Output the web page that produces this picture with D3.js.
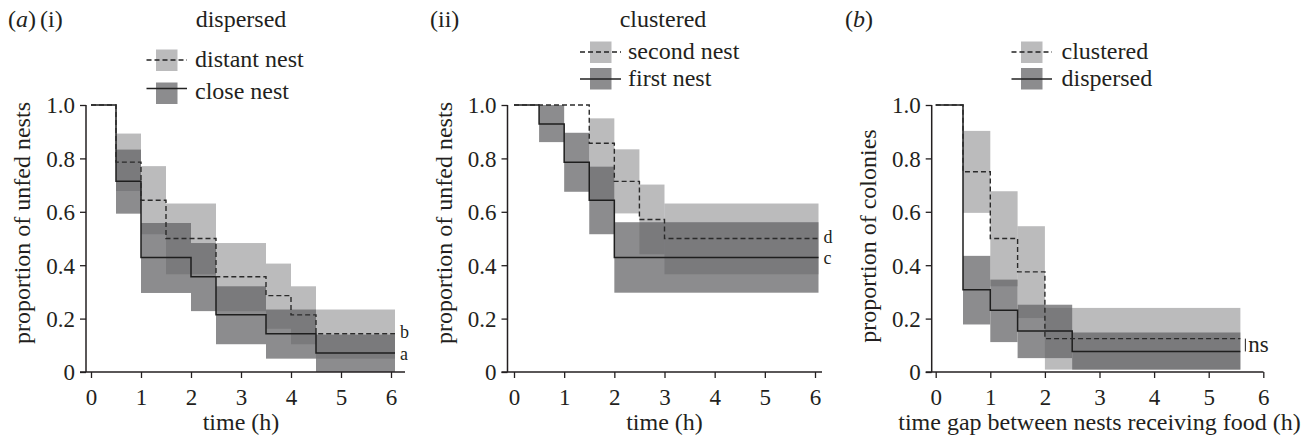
<!DOCTYPE html>
<html>
<head>
<meta charset="utf-8">
<script src="https://cdnjs.cloudflare.com/ajax/libs/d3/7.8.5/d3.min.js"></script>
<style>
  body { margin: 0; background: #fff; }
  svg { display: block; }
  svg text { font-family: 'Liberation Serif', 'Times New Roman', Times, serif; }
</style>
</head>
<body>
<svg></svg>
<script>
const WIDTH = 1314;
const HEIGHT = 443;

const LIGHT_FILL = 'rgb(99,99,101)';
const LIGHT_OPACITY = 0.435;
const DARK_FILL = '#8c8c8e';
const INK = '#231f20';

const hourTicks = [0, 1, 2, 3, 4, 5, 6];
const propTicks = [0, 0.2, 0.4, 0.6, 0.8, 1.0];

// (a)(i) dispersed - distant nest (dashed, light band)
const distantTimes = [0, 0.5, 1, 1.5, 2.5, 3.5, 4, 4.5];
const distantProp = [1, 0.786, 0.643, 0.5, 0.357, 0.286, 0.214, 0.143];
const distantBandFrom = [0.5, 1, 1.5, 2.5, 3.5, 4, 4.5];
const distantBandTo = [1, 1.5, 2.5, 3.5, 4, 4.5, 6.08];
const distantLow = [0.678, 0.516, 0.366, 0.228, 0.162, 0.104, 0.05];
const distantHigh = [0.893, 0.771, 0.631, 0.483, 0.406, 0.321, 0.234];

// (a)(i) dispersed - close nest (solid, dark band)
const closeTimes = [0, 0.5, 1, 2, 2.5, 3.5, 4.5];
const closeProp = [1, 0.714, 0.429, 0.357, 0.214, 0.143, 0.071];
const closeBandFrom = [0.5, 1, 2, 2.5, 3.5, 4.5];
const closeBandTo = [1, 2, 2.5, 3.5, 4.5, 6.08];
const closeLow = [0.593, 0.296, 0.228, 0.104, 0.05, 0];
const closeHigh = [0.833, 0.558, 0.483, 0.321, 0.234, 0.14];

// (a)(ii) clustered - second nest (dashed, light band)
const secondTimes = [0, 1.5, 2, 2.5, 3];
const secondProp = [1, 0.857, 0.714, 0.571, 0.5];
const secondBandFrom = [1.5, 2, 2.5, 3];
const secondBandTo = [2, 2.5, 3, 6.07];
const secondLow = [0.644, 0.594, 0.441, 0.366];
const secondHigh = [0.95, 0.834, 0.702, 0.631];

// (a)(ii) clustered - first nest (solid, dark band)
const firstTimes = [0, 0.5, 1, 1.5, 2];
const firstProp = [1, 0.929, 0.786, 0.643, 0.429];
const firstBandFrom = [0.5, 1, 1.5, 2];
const firstBandTo = [1, 1.5, 2, 6.07];
const firstLow = [0.861, 0.675, 0.516, 0.297];
const firstHigh = [1.0, 0.896, 0.769, 0.561];

// (b) clustered colonies (dashed, light band)
const clusTimes = [0, 0.5, 1, 1.5, 2];
const clusProp = [1, 0.75, 0.5, 0.375, 0.125];
const clusBandFrom = [0.5, 1, 1.5, 2];
const clusBandTo = [1, 1.5, 2, 5.58];
const clusLow = [0.596, 0.321, 0.202, 0.009];
const clusHigh = [0.903, 0.677, 0.546, 0.24];

// (b) dispersed colonies (solid, dark band)
const dispTimes = [0, 0.5, 1, 1.5, 2.5];
const dispProp = [1, 0.308, 0.231, 0.154, 0.077];
const dispBandFrom = [0.5, 1, 1.5, 2.5];
const dispBandTo = [1, 1.5, 2.5, 5.58];
const dispLow = [0.178, 0.112, 0.052, 0.009];
const dispHigh = [0.435, 0.346, 0.252, 0.148];

const svg = d3.select('svg').
attr('width', WIDTH).
attr('height', HEIGHT).
attr('fill', INK);

const bandRows = (from, to, low, high) => from.map((f, i) => ({ from: f, to: to[i], low: low[i], high: high[i] }));
const stepRows = (times, prop, end) => times.map((t, i) => ({ t, s: prop[i] })).concat([{ t: end, s: prop[prop.length - 1] }]);

const panels = [
{
  range: [91, 391], axisX: 86, axisEnd: 405,
  yTitle: 'proportion of unfed nests', yTitleX: 30, yTitleY: 223,
  xTitle: 'time (h)',
  light: { rows: bandRows(distantBandFrom, distantBandTo, distantLow, distantHigh), line: stepRows(distantTimes, distantProp, 6.08), tag: 'b', tagDy: 4.5 },
  dark: { rows: bandRows(closeBandFrom, closeBandTo, closeLow, closeHigh), line: stepRows(closeTimes, closeProp, 6.08), tag: 'a', tagDy: 6.5 } },

{
  range: [514, 815], axisX: 507.5, axisEnd: 822,
  yTitle: 'proportion of unfed nests', yTitleX: 451.5, yTitleY: 223,
  xTitle: 'time (h)',
  light: { rows: bandRows(secondBandFrom, secondBandTo, secondLow, secondHigh), line: stepRows(secondTimes, secondProp, 6.07), tag: 'd', tagDy: 4.5 },
  dark: { rows: bandRows(firstBandFrom, firstBandTo, firstLow, firstHigh), line: stepRows(firstTimes, firstProp, 6.07), tag: 'c', tagDy: 6.5 } },

{
  range: [935.7, 1263.3], axisX: 931.7, axisEnd: 1263.5,
  yTitle: 'proportion of colonies', yTitleX: 875.7, yTitleY: 236,
  xTitle: 'time gap between nests receiving food (h)',
  light: { rows: bandRows(clusBandFrom, clusBandTo, clusLow, clusHigh), line: stepRows(clusTimes, clusProp, 5.58), tag: null },
  dark: { rows: bandRows(dispBandFrom, dispBandTo, dispLow, dispHigh), line: stepRows(dispTimes, dispProp, 5.58), tag: null } }];



const yScale = d3.scaleLinear().domain([0, 1]).range([372, 105]);

panels.forEach(p => {
  const x = d3.scaleLinear().domain([0, 6]).range(p.range);
  const g = svg.append('g');

  // bands: dark first, translucent light on top makes the overlap darker
  g.append('g').selectAll('rect').
  data(p.dark.rows).
  join('rect').
  attr('x', d => x(d.from)).
  attr('width', d => x(d.to) - x(d.from)).
  attr('y', d => yScale(d.high)).
  attr('height', d => yScale(d.low) - yScale(d.high)).
  attr('fill', DARK_FILL);

  g.append('g').selectAll('rect').
  data(p.light.rows).
  join('rect').
  attr('x', d => x(d.from)).
  attr('width', d => x(d.to) - x(d.from)).
  attr('y', d => yScale(d.high)).
  attr('height', d => yScale(d.low) - yScale(d.high)).
  attr('fill', LIGHT_FILL).
  attr('fill-opacity', LIGHT_OPACITY);

  const step = d3.line().
  x(d => x(d.t)).
  y(d => yScale(d.s)).
  curve(d3.curveStepAfter);

  g.append('path').
  attr('d', step(p.dark.line)).
  attr('fill', 'none').
  attr('stroke', '#1e1e1e').
  attr('stroke-width', 1.5);

  g.append('path').
  attr('d', step(p.light.line)).
  attr('fill', 'none').
  attr('stroke', '#2a2a2a').
  attr('stroke-width', 1.4).
  attr('stroke-dasharray', '5,3');

  // axes
  const xAxis = d3.axisBottom(x).
  tickValues(hourTicks).
  tickSize(6).
  tickFormat(d3.format('d'));

  const xg = g.append('g').
  attr('transform', `translate(0,${yScale(0)})`).
  call(xAxis);
  xg.select('.domain').remove();
  xg.selectAll('line').attr('stroke', INK).attr('stroke-width', 1.3);
  xg.selectAll('text').
  attr('y', 33).
  attr('dy', 0).
  attr('font-size', 23).
  attr('fill', INK);

  const yAxis = d3.axisLeft(yScale).
  tickValues(propTicks).
  tickSize(6).
  tickFormat(d => d === 0 ? '0' : d3.format('.1f')(d));

  const yg = g.append('g').
  attr('transform', `translate(${p.axisX},0)`).
  call(yAxis);
  yg.select('.domain').remove();
  yg.selectAll('line').attr('stroke', INK).attr('stroke-width', 1.3);
  yg.selectAll('text').
  attr('x', -11).
  attr('dy', '0.34em').
  attr('font-size', 23).
  attr('fill', INK);

  g.append('line').
  attr('x1', p.axisX).attr('x2', p.axisX).
  attr('y1', yScale(1)).attr('y2', yScale(0)).
  attr('stroke', INK).attr('stroke-width', 1.5);

  g.append('line').
  attr('x1', p.axisX - 6).attr('x2', p.axisEnd).
  attr('y1', yScale(0)).attr('y2', yScale(0)).
  attr('stroke', INK).attr('stroke-width', 1.5);

  g.append('text').
  attr('transform', `translate(${p.yTitleX},${p.yTitleY}) rotate(-90)`).
  attr('text-anchor', 'middle').
  attr('font-size', 24).
  text(p.yTitle);

  g.append('text').
  attr('x', x(3)).
  attr('y', 430).
  attr('text-anchor', 'middle').
  attr('font-size', 24).
  text(p.xTitle);

  // end labels
  [p.light, p.dark].forEach(s => {
    if (!s.tag) return;
    const last = s.line[s.line.length - 1];
    g.append('text').
    attr('x', x(last.t) + 5).
    attr('y', yScale(last.s) + s.tagDy).
    attr('font-size', 18).
    text(s.tag);
  });

  if (!p.light.tag) {
    const a = p.light.line[p.light.line.length - 1];
    const b = p.dark.line[p.dark.line.length - 1];
    g.append('line').
    attr('x1', x(a.t) + 5).attr('x2', x(a.t) + 5).
    attr('y1', yScale(a.s)).attr('y2', yScale(b.s)).
    attr('stroke', INK).attr('stroke-width', 1);
    g.append('text').
    attr('x', x(a.t) + 8).
    attr('y', yScale(b.s) + 1).
    attr('font-size', 23).
    text('ns');
  }
});

// headers
const header = svg.append('g').attr('font-size', 24);

const panelA = header.append('text').attr('x', 8).attr('y', 27);
panelA.append('tspan').text('(');
panelA.append('tspan').attr('font-style', 'italic').text('a');
panelA.append('tspan').text(')');
header.append('text').attr('x', 40).attr('y', 27).text('(i)');
header.append('text').attr('x', 241).attr('y', 27).attr('text-anchor', 'middle').text('dispersed');
header.append('text').attr('x', 430).attr('y', 27).text('(ii)');
header.append('text').attr('x', 663).attr('y', 27).attr('text-anchor', 'middle').text('clustered');
const panelB = header.append('text').attr('x', 845).attr('y', 27);
panelB.append('tspan').text('(');
panelB.append('tspan').attr('font-style', 'italic').text('b');
panelB.append('tspan').text(')');

// legends
const legends = [
{ lineX: 146.5, boxX: 156, textX: 195, rows: [
  { label: 'distant nest', dashed: true, boxY: 49.5, lineY: 60, textY: 67 },
  { label: 'close nest', dashed: false, boxY: 82.5, lineY: 88.5, textY: 99 }] },

{ lineX: 580, boxX: 590, textX: 628, rows: [
  { label: 'second nest', dashed: true, boxY: 41.5, lineY: 52, textY: 59 },
  { label: 'first nest', dashed: false, boxY: 68, lineY: 79, textY: 85.5 }] },

{ lineX: 1011.5, boxX: 1021, textX: 1061.5, rows: [
  { label: 'clustered', dashed: true, boxY: 41.5, lineY: 52, textY: 59 },
  { label: 'dispersed', dashed: false, boxY: 68, lineY: 79, textY: 85.5 }] }];



legends.forEach(l => {
  const lg = svg.append('g');
  l.rows.forEach(r => {
    lg.append('rect').
    attr('x', l.boxX).attr('y', r.boxY).
    attr('width', 21.5).attr('height', 21.5).
    attr('fill', r.dashed ? LIGHT_FILL : DARK_FILL).
    attr('fill-opacity', r.dashed ? LIGHT_OPACITY : 1);
    lg.append('line').
    attr('x1', l.lineX).attr('x2', l.boxX + 31).
    attr('y1', r.lineY).attr('y2', r.lineY).
    attr('stroke', '#222').
    attr('stroke-width', 1.4).
    attr('stroke-dasharray', r.dashed ? '5,3' : null);
    lg.append('text').
    attr('x', l.textX).attr('y', r.textY).
    attr('font-size', 24).
    text(r.label);
  });
});
</script>
</body>
</html>
